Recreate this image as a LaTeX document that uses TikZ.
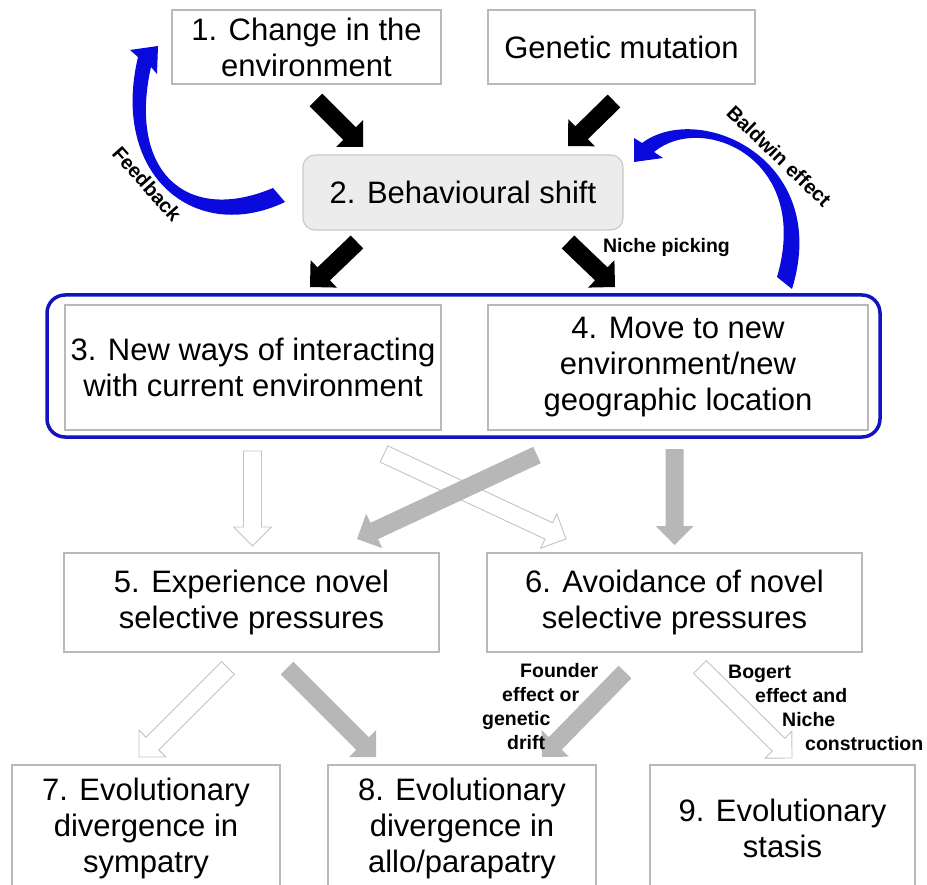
\documentclass[tikz,border=0pt]{standalone}
\usepackage{fontspec}
\setmainfont{Liberation Sans}
\usetikzlibrary{calc}

\definecolor{boxline}{RGB}{185,185,185}
\definecolor{shiftfill}{RGB}{236,236,236}
\definecolor{shiftline}{RGB}{200,200,200}
\definecolor{groupblue}{RGB}{20,20,190}
\definecolor{curveblue}{RGB}{10,10,220}
\definecolor{arrowgray}{RGB}{183,183,183}
\definecolor{arrowline}{RGB}{195,195,195}

% Straight block arrow from a tail point to a tip point:
% shaft 18pt wide, right-angled head 38pt wide and 19pt long.
\newcommand\flowarrow[3][]{%
  \coordinate (fa-neck) at ($(#3)!19pt!(#2)$);
  \path[#1] ($(#2)!9pt!90:(#3)$) -- ($(fa-neck)!9pt!90:(#3)$)
    -- ($(fa-neck)!19pt!90:(#3)$) -- (#3)
    -- ($(fa-neck)!19pt!-90:(#3)$) -- ($(fa-neck)!9pt!-90:(#3)$)
    -- ($(#2)!9pt!-90:(#3)$) -- cycle;
}

\begin{document}
\begin{tikzpicture}[x=1pt,y=-1pt,
  box/.style={draw=boxline, fill=white, line width=1.1pt, inner sep=0pt,
    align=center, font=\fontsize{31}{36}\selectfont},
  lab/.style={inner sep=0pt, font=\bfseries\fontsize{19.5}{24}\selectfont},
  rlab/.style={inner sep=0pt, font=\bfseries\fontsize{20}{24}\selectfont},
  blackarrow/.style={fill=black},
  grayarrow/.style={fill=arrowgray},
  hollowarrow/.style={fill=white, draw=arrowline, line width=0.9pt, line join=miter},
  bluecurve/.style={fill=curveblue}]
\useasboundingbox (0,0) rectangle (927,885);
\clip (0,0) rectangle (927,885);

% ---------- boxes ----------
\node[box, minimum width=269pt, minimum height=74pt] (env) at (306.5,47)
  {1. Change in the\\environment};
\node[box, minimum width=267pt, minimum height=74pt] (gen) at (621.5,47)
  {Genetic mutation};
\node[box, draw=shiftline, fill=shiftfill, rounded corners=12pt,
  minimum width=320pt, minimum height=75pt] (shift) at (463,192.5)
  {2. Behavioural shift};
\node[draw=groupblue, line width=3.5pt, rounded corners=18pt, inner sep=0pt,
  minimum width=833pt, minimum height=142pt] (group) at (463.5,366) {};
\node[box, minimum width=376pt, minimum height=125pt] (interact) at (253,367.5)
  {3. New ways of interacting\\with current environment};
\node[box, minimum width=380pt, minimum height=125pt] (move) at (678,367.5)
  {4. Move to new\\environment/new\\geographic location};
\node[box, minimum width=375pt, minimum height=99pt] (novel) at (251.5,602.5)
  {5. Experience novel\\selective pressures};
\node[box, minimum width=375pt, minimum height=99pt] (avoid) at (674.5,602.5)
  {6. Avoidance of novel\\selective pressures};
\node[box, minimum width=268pt, minimum height=127pt] (symp) at (146,828.5)
  {7. Evolutionary\\divergence in\\sympatry};
\node[box, minimum width=268pt, minimum height=127pt] (allo) at (462,828.5)
  {8. Evolutionary\\divergence in\\allo/parapatry};
\node[box, minimum width=265pt, minimum height=127pt] (stasis) at (782.5,828.5)
  {9. Evolutionary\\stasis};

% ---------- arrow end points ----------
\coordinate (env-out)      at (316,100);   \coordinate (shift-in-l)  at (363,147);
\coordinate (gen-out)      at (614,101);   \coordinate (shift-in-r)  at (568,146);
\coordinate (shift-out-l)  at (357,242);   \coordinate (interact-in) at (310,287);
\coordinate (shift-out-r)  at (568,242);   \coordinate (move-in)     at (615,287);
\coordinate (interact-out-d) at (252.5,451); \coordinate (novel-in-a) at (252.5,546);
\coordinate (interact-out-x) at (384,454);   \coordinate (avoid-in-a) at (566,539);
\coordinate (move-out-x)   at (537,455);   \coordinate (novel-in-b)  at (357,539);
\coordinate (move-out-d)   at (674.5,449); \coordinate (avoid-in-b)  at (674.5,545);
\coordinate (novel-out-l)  at (228,668);   \coordinate (symp-in)     at (139,757);
\coordinate (novel-out-r)  at (287,668);   \coordinate (allo-in-l)   at (376,757);
\coordinate (avoid-out-l)  at (625,672);   \coordinate (allo-in-r)   at (542,757);
\coordinate (avoid-out-r)  at (700,667);   \coordinate (stasis-in)   at (792,758);

% ---------- black arrows ----------
\flowarrow[blackarrow]{env-out}{shift-in-l}
\flowarrow[blackarrow]{gen-out}{shift-in-r}
\flowarrow[blackarrow]{shift-out-l}{interact-in}
\flowarrow[blackarrow]{shift-out-r}{move-in}

% ---------- grey and hollow arrows ----------
\flowarrow[hollowarrow]{interact-out-d}{novel-in-a}
\flowarrow[hollowarrow]{interact-out-x}{avoid-in-a}
\flowarrow[grayarrow]{move-out-x}{novel-in-b}
\flowarrow[grayarrow]{move-out-d}{avoid-in-b}
\flowarrow[hollowarrow]{novel-out-l}{symp-in}
\flowarrow[grayarrow]{novel-out-r}{allo-in-l}
\flowarrow[grayarrow]{avoid-out-l}{allo-in-r}
\flowarrow[hollowarrow]{avoid-out-r}{stasis-in}

% ---------- curved blue arrows ----------
% Feedback: from the behavioural shift back to the environment
\path[bluecurve] (130,50) -- (158,46) -- (157,74) -- (151,67)
  .. controls (128,170) and (185,225) .. (273,188) -- (285,202)
  .. controls (195,245) and (110,175) .. (138,57) -- cycle;
% Baldwin effect: from the lower group back to the behavioural shift
\path[bluecurve] (634,138) -- (634,162) -- (663,158) -- (654,152)
  .. controls (702,112) and (812,158) .. (777,277) -- (792,289)
  .. controls (832,160) and (700,100) .. (642,143) -- cycle;

% ---------- labels ----------
\node[rlab, rotate=-48.5] (feedback) at (147,184) {Feedback};
\node[rlab, rotate=-44] (baldwin) at (779,156) {Baldwin effect};
\node[lab] (niche) at (666.5,248) {Niche picking};
\node[lab, align=left, anchor=north west] (founder) at (482,663)
  {\hspace*{38pt}Founder\\\hspace*{20pt}effect or\\genetic\\\hspace*{25pt}drift};
\node[lab, align=left, anchor=north west] (bogert) at (728,665)
  {Bogert\\\hspace*{27pt}effect and\\\hspace*{54pt}Niche\\\hspace*{77pt}construction};
\end{tikzpicture}
\end{document}
